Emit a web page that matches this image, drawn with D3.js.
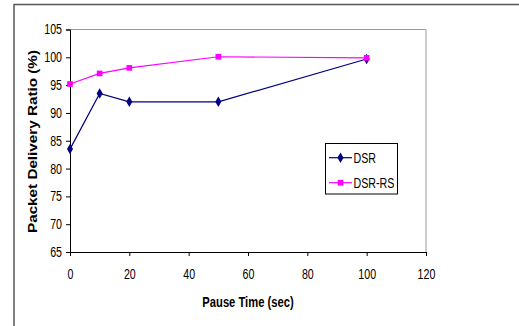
<!DOCTYPE html>
<html><head><meta charset="utf-8">
<script src="https://cdn.jsdelivr.net/npm/d3@7"></script>
<style>
body{margin:0;background:#fff;}
svg{display:block;}
</style></head><body>
<svg id="c" width="519" height="326"></svg>
<script>
const pauseTimes = [0, 10, 20, 50, 100];
const dsr = [83.5, 93.5, 92.0, 92.0, 99.7];
const dsrRs = [95.2, 97.1, 98.1, 100.1, 99.9];
const xTicks = [0, 20, 40, 60, 80, 100, 120];
const yTicks = [65, 70, 75, 80, 85, 90, 95, 100, 105];
const seriesNames = ["DSR", "DSR-RS"];

const svg = d3.select("#c");
const font = "'Liberation Sans', Arial, sans-serif";
const L = 70, R = 426, T = 29.5, B = 252;
const x = d3.scaleLinear().domain([0, 120]).range([L, R]);
const y = d3.scaleLinear().domain([65, 105]).range([B, T]);

function narrow(sel, f) {
  sel.each(function () {
    const w = this.getComputedTextLength();
    d3.select(this).attr("textLength", w * f).attr("lengthAdjust", "spacingAndGlyphs");
  });
}

// outer frame (partial)
svg.append("line").attr("x1", 14).attr("x2", 519).attr("y1", 4.5).attr("y2", 4.5)
  .attr("stroke", "#555").attr("stroke-width", 1.5);
svg.append("line").attr("x1", 14).attr("x2", 14).attr("y1", 4).attr("y2", 326)
  .attr("stroke", "#555").attr("stroke-width", 1.5);

// plot border top/right
svg.append("path").attr("d", `M${L},${T}H${R}V${B}`).attr("fill", "none")
  .attr("stroke", "#999").attr("stroke-width", 1);

const yAxis = svg.append("g").attr("transform", `translate(${L},0)`)
  .call(d3.axisLeft(y).tickValues(yTicks).tickSize(4).tickPadding(4).tickFormat(d3.format("d")));
const xAxis = svg.append("g").attr("transform", `translate(0,${B})`)
  .call(d3.axisBottom(x).tickValues(xTicks).tickSize(4).tickPadding(13).tickFormat(d3.format("d")));
[yAxis, xAxis].forEach(g => {
  g.select(".domain").attr("stroke", "#000");
  g.selectAll(".tick line").attr("stroke", "#000");
  g.selectAll("text").attr("font-family", font).attr("font-size", 14).attr("fill", "#000")
    .call(narrow, 0.76);
});

svg.append("text").attr("x", 248).attr("y", 307).attr("text-anchor", "middle")
  .attr("font-family", font).attr("font-weight", "bold").attr("font-size", 14)
  .text("Pause Time (sec)").call(narrow, 0.8);
svg.append("text").attr("transform", "translate(37,141.5) rotate(-90)").attr("text-anchor", "middle")
  .attr("font-family", font).attr("font-weight", "bold").attr("font-size", 13)
  .text("Packet Delivery Ratio (%)")
  .attr("textLength", 183).attr("lengthAdjust", "spacingAndGlyphs");

const colors = ["#000080", "#FF00FF"];
const data = [dsr, dsrRs];
const line = d3.line().x((d, i) => x(pauseTimes[i])).y(d => y(d));
const diamond = d3.symbol().type(d3.symbolDiamond).size(32);
const square = d3.symbol().type(d3.symbolSquare).size(32);
const shapes = [diamond, square];

data.forEach((vals, s) => {
  svg.append("path").datum(vals).attr("d", line).attr("fill", "none")
    .attr("stroke", colors[s]).attr("stroke-width", 1.2);
  svg.selectAll(null).data(vals).enter().append("path")
    .attr("transform", (d, i) => `translate(${x(pauseTimes[i])},${y(d)})`)
    .attr("d", shapes[s]()).attr("fill", colors[s]);
});

// legend
const lg = svg.append("g");
lg.append("rect").attr("x", 325.5).attr("y", 143.5).attr("width", 72).attr("height", 50.5)
  .attr("fill", "#fff").attr("stroke", "#000").attr("stroke-width", 1);
seriesNames.forEach((n, s) => {
  const yy = 157.7 + s * 25;
  lg.append("line").attr("x1", 329).attr("x2", 352).attr("y1", yy).attr("y2", yy)
    .attr("stroke", colors[s]).attr("stroke-width", 1.2);
  lg.append("path").attr("transform", `translate(340.5,${yy})`).attr("d", shapes[s]()).attr("fill", colors[s]);
  lg.append("text").attr("x", 353.5).attr("y", yy + 5).attr("font-family", font)
    .attr("font-size", 14).attr("fill", "#000").text(n).call(narrow, 0.76);
});
</script>
</body></html>
